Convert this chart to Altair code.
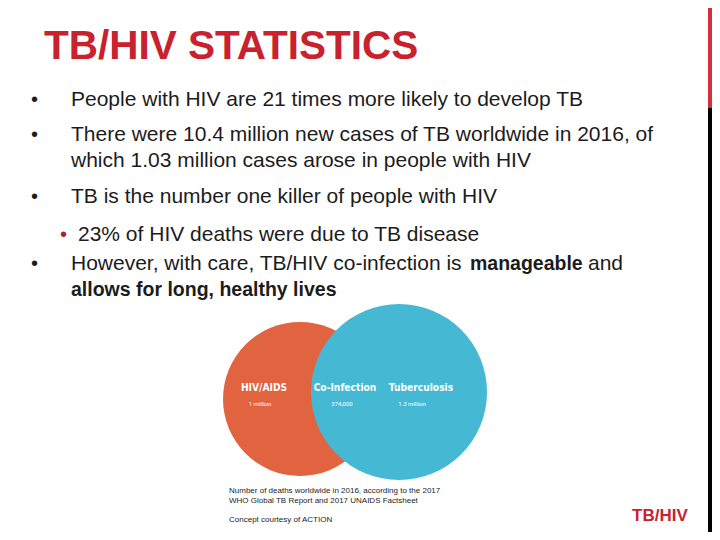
import altair as alt
import pandas as pd
import numpy as np

# ---------------- data ----------------
title_text = ["TB/HIV STATISTICS"]
body_lines = [
    "People with HIV are 21 times more likely to develop TB",
    "There were 10.4 million new cases of TB worldwide in 2016, of",
    "which 1.03 million cases arose in people with HIV",
    "TB is the number one killer of people with HIV",
    "23% of HIV deaths were due to TB disease",
    "However, with care, TB/HIV co-infection is",
    "and",
]
bold_lines = ["manageable", "allows for long, healthy lives"]
venn_names = ["HIV/AIDS", "Co-Infection", "Tuberculosis"]
venn_values = ["1 million", "374,000", "1.3 million"]
footnotes = [
    "Number of deaths worldwide in 2016, according to the 2017",
    "WHO Global TB Report and 2017 UNAIDS Factsheet",
    "Concept courtesy of ACTION",
]
footer_text = ["TB/HIV"]

# ---------------- layout (reference pixel coordinates) ----------------
W, H = 704, 524
X0, Y0 = 8, 8
xs = alt.Scale(domain=[X0, X0 + W], nice=False, zero=False)
ys = alt.Scale(domain=[Y0, Y0 + H], nice=False, zero=False, reverse=True)

RED = "#c9212d"
TXT = "#1c1c1c"
BODY_FONT = "Liberation Sans"

def X(field="x"):
    return alt.X(f"{field}:Q", scale=xs, axis=None)

def Y(field="y"):
    return alt.Y(f"{field}:Q", scale=ys, axis=None)

# side bars
bars = pd.DataFrame({
    "x": [708, 708], "x2": [712, 712],
    "y": [8, 108], "y2": [108, 532],
    "c": ["#d2303a", "#000000"],
})
bar_layer = alt.Chart(bars).mark_rect().encode(
    x=X(), x2="x2:Q", y=Y(), y2="y2:Q",
    color=alt.Color("c:N", scale=None),
)

# venn circles (Vega symbol size = diameter squared)
ORANGE, BLUE, TEAL = "#e2633f", "#45b9d4", "#3a9db0"
cxo, cyo, ro = 300, 399, 77
cxb, cyb, rb = 399, 392, 88
circ = pd.DataFrame({
    "x": [cxo, cxb], "y": [cyo, cyb],
    "s": [(2 * ro) ** 2, (2 * rb) ** 2],
    "c": [ORANGE, BLUE],
    "o": [0, 1],
})
circle_layer = alt.Chart(circ).mark_circle(opacity=1).encode(
    x=X(), y=Y(),
    size=alt.Size("s:Q", scale=None),
    color=alt.Color("c:N", scale=None),
    order=alt.Order("o:Q"),
)

# lens = intersection of both discs
xl, xr = max(cxo - ro, cxb - rb), min(cxo + ro, cxb + rb)
t = np.linspace(0, np.pi, 400)
lx = xl + (xr - xl) * (1 - np.cos(t)) / 2
ho = np.sqrt(np.clip(ro ** 2 - (lx - cxo) ** 2, 0, None))
hb = np.sqrt(np.clip(rb ** 2 - (lx - cxb) ** 2, 0, None))
top = np.maximum(cyo - ho, cyb - hb)
bot = np.minimum(cyo + ho, cyb + hb)
lens = pd.DataFrame({"x": lx, "y": top, "y2": np.maximum(bot, top)})
lens_layer = alt.Chart(lens).mark_area(color=TEAL, opacity=1).encode(
    x=X(), y=Y(), y2="y2:Q", order=alt.Order("x:Q"),
)

def text_layer(df, **kw):
    return alt.Chart(df).mark_text(baseline="alphabetic", **kw).encode(
        x=X(), y=Y(), text="t:N"
    )

title_layer = text_layer(
    pd.DataFrame({"t": title_text, "x": [44], "y": [59]}),
    align="left", font=BODY_FONT, fontWeight="bold", fontSize=40.5, color=RED,
)

body_x = [71, 71, 71, 71, 78, 71, 588]
body_y = [106, 141, 166.5, 203, 240.5, 269.5, 269.5]
body_layer = text_layer(
    pd.DataFrame({"t": body_lines, "x": body_x, "y": body_y}),
    align="left", font=BODY_FONT, fontSize=21, color=TXT,
)
bold_layer = text_layer(
    pd.DataFrame({"t": bold_lines, "x": [470, 71], "y": [269.5, 296]}),
    align="left", font=BODY_FONT, fontWeight="bold", fontSize=19.5, color=TXT,
)
bullets_layer = text_layer(
    pd.DataFrame({"t": ["•"] * 4, "x": [31, 31, 31, 31], "y": [106, 141, 203, 269.5]}),
    align="left", font=BODY_FONT, fontSize=20, color=TXT,
)
sub_bullet = text_layer(
    pd.DataFrame({"t": ["•"], "x": [60], "y": [240.5]}),
    align="left", font=BODY_FONT, fontSize=20, color="#a3263a",
)

venn_name_layer = text_layer(
    pd.DataFrame({"t": venn_names, "x": [264, 345, 421], "y": [391, 391, 391]}),
    align="center", font="DejaVu Sans Condensed, Roboto", fontSize=10.2,
    fontWeight="bold", color="white",
)
venn_val_layer = text_layer(
    pd.DataFrame({"t": venn_values, "x": [260, 342, 412], "y": [406, 406, 406]}),
    align="center", font="Roboto", fontSize=6, color="white",
)

foot_layer = text_layer(
    pd.DataFrame({"t": footnotes, "x": [229, 229, 229], "y": [493, 503, 522]}),
    align="left", font=BODY_FONT, fontSize=8, color=TXT,
)
footer_layer = text_layer(
    pd.DataFrame({"t": footer_text, "x": [632], "y": [521]}),
    align="left", font=BODY_FONT, fontWeight="bold", fontSize=17, color=RED,
)

chart = alt.layer(
    bar_layer, circle_layer, lens_layer,
    title_layer, body_layer, bold_layer, bullets_layer, sub_bullet,
    venn_name_layer, venn_val_layer, foot_layer, footer_layer,
).properties(
    width=W, height=H, padding=0, background="white",
    autosize=alt.AutoSizeParams(type="none"),
).configure_view(stroke=None)

chart.save("out.html", embed_options={"renderer": "svg", "actions": False})
